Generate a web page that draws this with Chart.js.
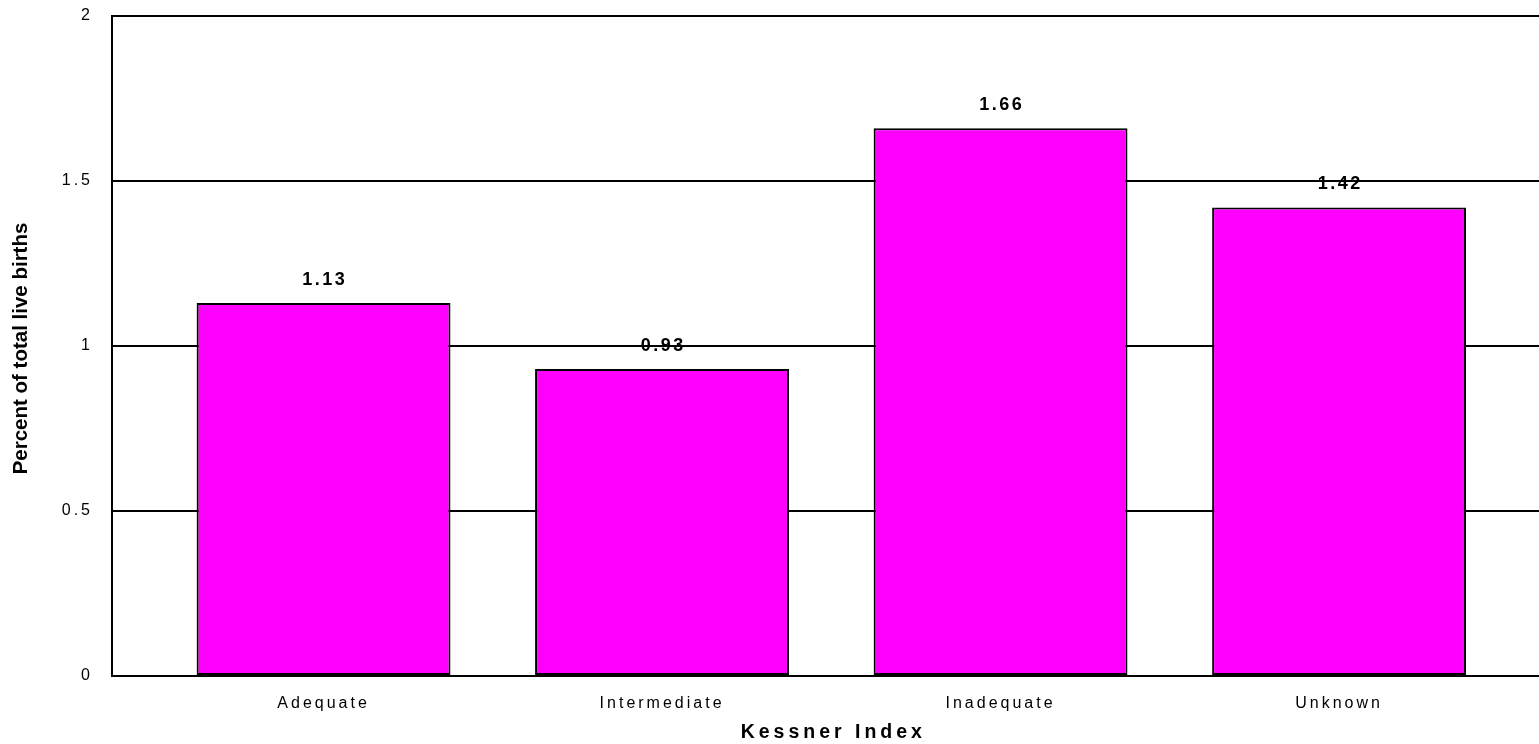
<!DOCTYPE html>
<html>
<head>
<meta charset="utf-8">
<title>Kessner Index</title>
<script src="https://cdn.jsdelivr.net/npm/chart.js@4.4.0/dist/chart.umd.min.js"></script>
<style>
    html, body { margin: 0; padding: 0; background: #fff; }
    #wrap { width: 1539px; height: 744px; position: relative; }
</style>
</head>
<body>
<div id="wrap"><canvas id="kessnerChart"></canvas></div>
<script>
const categories = ['Adequate', 'Intermediate', 'Inadequate', 'Unknown'];
const percentValues = [1.13, 0.93, 1.66, 1.42];
const yTickValues = [0, 0.5, 1, 1.5, 2];
const xTitle = 'Kessner Index';
const yTitle = 'Percent of total live births';

const FONT = "Arial, 'Liberation Sans', sans-serif";

// value labels over the bars and both axis titles (spaced letters)
const labelPlugin = {
    id: 'kessnerLabels',
    beforeDraw(chart) {
        chart.ctx.letterSpacing = '3px';
    },
    afterDatasetsDraw(chart) {
        const ctx = chart.ctx;
        const meta = chart.getDatasetMeta(0);
        ctx.save();
        ctx.letterSpacing = '2.5px';
        ctx.font = 'bold 18px ' + FONT;
        ctx.fillStyle = '#000';
        ctx.textAlign = 'center';
        ctx.textBaseline = 'alphabetic';
        meta.data.forEach((bar, i) => {
            ctx.fillText(percentValues[i].toFixed(2), bar.x + 1.25, bar.y - 18);
        });
        ctx.restore();
    },
    afterDraw(chart) {
        const ctx = chart.ctx;
        const xScale = chart.scales.x;
        ctx.save();
        ctx.fillStyle = '#000';
        ctx.textAlign = 'center';
        ctx.textBaseline = 'alphabetic';
        ctx.font = 'bold 19.5px ' + FONT;
        ctx.letterSpacing = '4px';
        ctx.fillText(xTitle, xScale.getPixelForValue((categories.length - 1) / 2) + 2, 738);
        ctx.letterSpacing = '0px';
        ctx.font = 'bold 20.5px ' + FONT;
        ctx.translate(26.5, 348.5);
        ctx.rotate(-Math.PI / 2);
        ctx.fillText(yTitle, 0, 0);
        ctx.restore();
    }
};

const ctx = document.getElementById('kessnerChart').getContext('2d');
new Chart(ctx, {
    type: 'bar',
    data: {
        datasets: [{
            label: yTitle,
            data: percentValues.map((v, i) => ({ x: i, y: v })),
            backgroundColor: '#FF00FF',
            borderColor: '#000000',
            borderWidth: 2,
            borderSkipped: false,
            barPercentage: 0.75,
            categoryPercentage: 1
        }]
    },
    options: {
        responsive: true,
        maintainAspectRatio: false,
        animation: false,
        layout: { padding: { top: 16, right: 0, left: 0, bottom: 0 } },
        plugins: {
            legend: { display: false },
            title: { display: false },
            tooltip: { enabled: false }
        },
        scales: {
            x: {
                type: 'linear',
                offset: false,
                min: -0.625,
                max: 3.5907,
                afterBuildTicks: scale => {
                    scale.ticks = categories.map((c, i) => ({ value: i }));
                },
                afterFit: scale => {
                    scale.height = 68;
                    scale.paddingTop = 0;
                    scale.paddingBottom = 0;
                },
                grid: { display: false, drawTicks: false },
                border: { display: true, color: '#000', width: 2 },
                ticks: {
                    autoSkip: false,
                    maxRotation: 0,
                    padding: 17.5,
                    color: '#000',
                    font: { family: FONT, size: 16 },
                    callback: value => categories[value]
                },
                title: { display: false }
            },
            y: {
                min: 0,
                max: 2,
                afterBuildTicks: scale => {
                    scale.ticks = yTickValues.map(v => ({ value: v }));
                },
                afterFit: scale => {
                    scale.width = 112;
                    scale.paddingTop = 0;
                    scale.paddingBottom = 0;
                },
                grid: { color: '#000', lineWidth: 2, drawTicks: false },
                border: { display: true, color: '#000', width: 2 },
                ticks: {
                    padding: 19,
                    color: '#000',
                    font: { family: FONT, size: 16 },
                    callback: value => String(value)
                },
                title: { display: false }
            }
        }
    },
    plugins: [labelPlugin]
});
</script>
</body>
</html>
